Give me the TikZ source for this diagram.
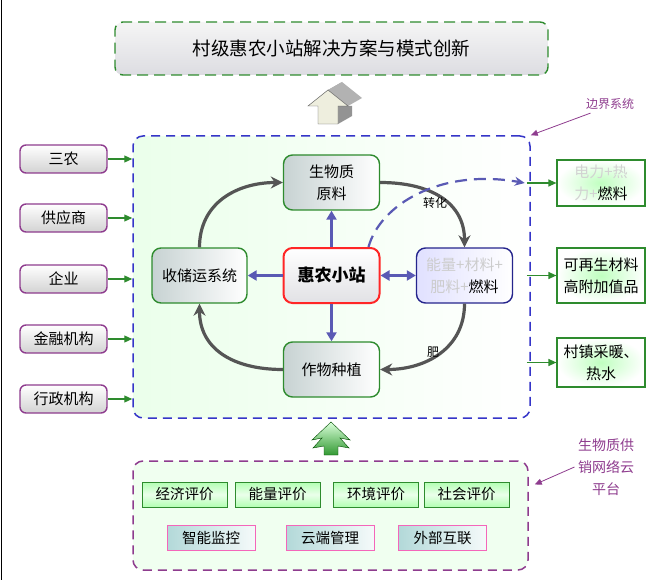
\documentclass[tikz,border=0pt]{standalone}
\usepackage{fontspec}
\setmainfont{Noto Sans CJK SC}
\usetikzlibrary{arrows.meta}
\definecolor{bjblue}{HTML}{3535C8}
\definecolor{lvse}{HTML}{2E8B2E}
\definecolor{zise}{HTML}{8E3C8E}
\definecolor{huise}{HTML}{555555}
\definecolor{lanjian}{HTML}{5A5AB4}
\newcommand{\fsz}[2]{\fontsize{#1}{#2}\selectfont}
\begin{document}
\begin{tikzpicture}[x=1pt,y=-1pt,
    zuo/.style={draw=zise,line width=1.4pt,rounded corners=6pt,top color=white,bottom color=gray!35,minimum width=87,minimum height=28,font=\fsz{15}{18}},
    zhong/.style={draw=lvse,line width=1.4pt,rounded corners=9pt,left color=teal!25!gray!35,right color=white,minimum width=96,minimum height=55,align=center,font=\fsz{15}{22}},
    you/.style={draw=lvse,line width=1.2pt,inner color=green!25,outer color=white,minimum width=88,align=center,font=\fsz{15}{22}},
    ping/.style={draw=lvse,line width=1pt,top color=green!30,bottom color=green!30,middle color=green!8,minimum width=85,minimum height=25,font=\fsz{14.5}{17}},
    guan/.style={draw=magenta!60,line width=1pt,left color=teal!30,right color=teal!4,minimum width=88,minimum height=25,font=\fsz{14.5}{17}},
    lvjian/.style={draw=lvse,line width=1.2pt,-{Triangle[length=8pt,width=7pt]}},
    huijian/.style={draw=huise,line width=3.2pt,-{Stealth[length=12pt,width=12pt]}},
    lanjt/.style={draw=lanjian,line width=3pt,-{Triangle[length=9pt,width=10pt]}},
    zijian/.style={draw=zise,line width=0.8pt,-{Triangle[length=7pt,width=6pt]}}]
    \useasboundingbox (0,0) rectangle (661,580);
    \draw[line width=1pt] (1.5,0) -- (1.5,580);
    \node (biaoti) at (331.5,48.5) [draw=lvse,line width=1.4pt,dash pattern=on 11pt off 6pt,rounded corners=8pt,top color=gray!8,bottom color=blue!8!gray!25,minimum width=433,minimum height=53,font=\fsz{18.5}{20}] {村级惠农小站解决方案与模式创新};
    \fill[gray!75] (308,106) -- (328,90) -- (342,82) -- (322,98) -- cycle;
    \fill[gray!60] (328,90) -- (348,106) -- (362,98) -- (342,82) -- cycle;
    \fill[gray!85] (338,106) -- (338,124) -- (352,116) -- (352,106) -- cycle;
    \draw[gray!70!black,fill={rgb,255:red,238;green,238;blue,222}] (308,106) -- (328,90) -- (348,106) -- (338,106) -- (338,124) -- (318,124) -- (318,106) -- cycle;
    \node (xitong) at (331.5,277) [draw=bjblue,line width=1.5pt,dash pattern=on 9pt off 6pt,rounded corners=10pt,left color=green!8,right color=white,minimum width=397,minimum height=282] {};
    \foreach \n/\y/\t in {1/159/三农,2/218/供应商,3/279/企业,4/339/金融机构,5/399/行政机构} {
        \node (z\n) at (63.5,\y) [zuo] {\t};
        \draw[lvjian] (z\n.east) -- (z\n.east -| xitong.west);
    }
    \node (shengwu) at (331.5,182.5) [zhong] {生物质\\原料};
    \node (shouyun) at (199.5,275.5) [zhong,minimum width=95] {收储运系统};
    \node (huinong) at (331.5,275.5) [zhong,draw=red!85,line width=2pt,top color=white,bottom color=blue!6!gray!22,font=\fsz{17}{20}\bfseries] {惠农小站};
    \node (nengliang) at (464.5,275.5) [zhong,draw=bjblue!70!black,left color=blue!12,right color=white] {\textcolor{gray!40}{能量+材料+}\\\textcolor{gray!40}{肥料+}燃料};
    \node (zuowu) at (331.5,369.5) [zhong] {作物种植};
    \draw[lanjt] (huinong) -- (shengwu);
    \draw[lanjt] (huinong) -- (shouyun);
    \draw[lanjt] (huinong) -- (zuowu);
    \draw[lanjt,{Triangle[length=9pt,width=10pt]}-{Triangle[length=9pt,width=10pt]}] (huinong) -- (nengliang);
    \draw[huijian] (shouyun.north) .. controls +(0,-45) and +(-45,0) .. (shengwu.west);
    \draw[huijian] (shengwu.east) .. controls +(50,0) and +(0,-45) .. (nengliang.north);
    \draw[huijian] (nengliang.south) .. controls +(0,45) and +(45,0) .. (zuowu.east);
    \draw[huijian] (zuowu.west) .. controls +(-50,0) and +(0,45) .. (shouyun.south);
    \node (zhuanhua) at (435,203) [font=\fsz{12}{14}] {转化};
    \node (fei) at (433,352) [font=\fsz{12}{14}] {肥};
    \node (dian) at (601,183) [you,minimum height=46] {\textcolor{gray!35}{电力+热}\\\textcolor{gray!35}{力+}燃料};
    \node (cailiao) at (601,275.5) [you,minimum height=55] {可再生材料\\高附加值品};
    \node (nuan) at (601,362.5) [you,minimum height=49] {村镇采暖、\\热水};
    \foreach \r in {dian,cailiao,nuan}
        \draw[lvjian] ([xshift=-4pt]\r.west -| xitong.east) -- (\r.west);
    \draw[lanjian,line width=2.2pt,dash pattern=on 12pt off 7pt,-{Stealth[length=10pt,width=9pt]}] ([xshift=-12pt]huinong.north east) .. controls (380,205) and (440,168) .. ([xshift=-6pt]dian.west -| xitong.east);
    \node (bianjie) at (610,104) [text=zise,font=\fsz{12}{14}] {边界系统};
    \draw[zijian] ([xshift=8pt]bianjie.south west) -- (xitong.north east);
    \shade[top color=green!15,bottom color=green!50!black!80,draw=green!30!black] (331,422) -- (312,440) -- (322,438) -- (313,448) -- (324,446) -- (324,455) -- (338,455) -- (338,446) -- (349,448) -- (340,438) -- (350,440) -- cycle;
    \node (yun) at (330.5,515.5) [draw=zise,line width=1.5pt,dash pattern=on 9pt off 6pt,rounded corners=10pt,fill=green!6,minimum width=395,minimum height=109] {};
    \foreach \n/\x/\t in {1/184.5/经济评价,2/277.5/能量评价,3/376/环境评价,4/466.5/社会评价}
        \node (p\n) at (\x,494.5) [ping] {\t};
    \foreach \n/\x/\t in {1/211/智能监控,2/330/云端管理,3/442.5/外部互联}
        \node (g\n) at (\x,538) [guan] {\t};
    \node (pingtai) at (606,467) [text=zise,align=center,font=\fsz{14}{22}] {生物质供\\销网络云\\平台};
    \draw[zijian] (pingtai.west) -- ([xshift=6pt,yshift=31pt]yun.east);
\end{tikzpicture}
\end{document}
